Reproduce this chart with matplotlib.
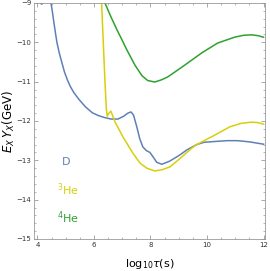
import matplotlib
matplotlib.use("Agg")
import matplotlib.pyplot as plt
from matplotlib.ticker import MultipleLocator

# D curve
d_x = [4.48, 4.53, 4.57, 4.63, 4.69, 4.77, 4.86, 4.96, 5.07, 5.17, 5.3, 5.48, 5.7,
       5.94, 6.15, 6.36, 6.6, 6.85, 7.05, 7.2, 7.31, 7.4, 7.52, 7.62, 7.73, 7.85,
       7.98, 8.1, 8.22, 8.4, 8.68, 9.0, 9.3, 9.63, 9.9, 10.3, 10.7, 11.08, 11.5, 12.0]
d_y = [-9.0, -9.22, -9.43, -9.72, -10.0, -10.26, -10.5, -10.76, -10.97, -11.13,
       -11.29, -11.46, -11.64, -11.79, -11.86, -11.91, -11.95, -11.95, -11.88, -11.8,
       -11.77, -11.85, -12.16, -12.45, -12.66, -12.75, -12.8, -12.92, -13.05, -13.1,
       -13.02, -12.88, -12.73, -12.6, -12.54, -12.52, -12.5, -12.5, -12.53, -12.59]
# tiny piece of D poking in at the top left
d2_x = [4.10, 4.15, 4.20]
d2_y = [-8.99, -9.03, -8.99]

# 3He curve
he3_x = [6.27, 6.33, 6.39, 6.44, 6.47, 6.53, 6.6, 6.67, 6.75, 7.03, 7.38, 7.63, 7.87,
         8.15, 8.4, 8.68, 9.0, 9.46, 9.63, 10.27, 10.8, 11.2, 11.57, 11.8, 12.0]
he3_y = [-9.0, -10.0, -11.0, -11.7, -11.88, -11.8, -11.75, -11.88, -12.03, -12.41,
         -12.82, -13.07, -13.2, -13.27, -13.24, -13.17, -12.98, -12.69, -12.6, -12.36,
         -12.15, -12.06, -12.03, -12.04, -12.08]

# 4He curve
he4_x = [6.39, 6.6, 6.82, 7.0, 7.17, 7.45, 7.7, 7.9, 8.15, 8.4, 8.61, 9.21, 9.81,
         10.37, 10.97, 11.3, 11.57, 11.8, 12.0]
he4_y = [-9.0, -9.35, -9.69, -9.95, -10.2, -10.58, -10.85, -10.97, -11.01, -10.95,
         -10.88, -10.58, -10.27, -10.02, -9.87, -9.82, -9.81, -9.83, -9.87]

blue = "#5E81B5"
yellow = "#D8CF0A"
green = "#2EA22E"

plt.rcParams['mathtext.fontset'] = 'dejavusans'
fig = plt.figure(figsize=(2.70, 2.71), dpi=100)
ax = fig.add_axes([34 / 270, 32 / 271, 231 / 270, 236 / 271])

ax.plot(d_x, d_y, color=blue, lw=1.1)
ax.plot(d2_x, d2_y, color=blue, lw=1.1)
ax.plot(he3_x, he3_y, color=yellow, lw=1.1)
ax.plot(he4_x, he4_y, color=green, lw=1.1)

ax.text(4.88, -13.05, "D", color=blue, fontsize=8, va="center")
ax.text(4.7, -13.75, "$^3$He", color=yellow, fontsize=8, va="center")
ax.text(4.7, -14.45, "$^4$He", color=green, fontsize=8, va="center")

ax.set_xlim(3.88, 12.05)
ax.set_ylim(-15, -9)
ax.xaxis.set_major_locator(MultipleLocator(2))
ax.xaxis.set_minor_locator(MultipleLocator(0.5))
ax.yaxis.set_major_locator(MultipleLocator(1))
ax.yaxis.set_minor_locator(MultipleLocator(0.2))
ax.tick_params(which="both", direction="in", top=True, right=True,
               color="#999999", labelsize=5, labelcolor="#333333", pad=2)
ax.tick_params(which="major", length=3, width=0.6)
ax.tick_params(which="minor", length=1.5, width=0.5)
ax.tick_params(axis="x", labeltop=False)
ax.tick_params(axis="y", labelright=False)
for s in ax.spines.values():
    s.set_color("#999999")
    s.set_linewidth(0.6)
ax.set_yticks(range(-15, -8))
ax.set_yticklabels(["\u221215", "\u221214", "\u221213", "\u221212", "\u221211",
                    "\u221210", "\u22129"])

ax.set_xlabel(r"log$_{10}\tau$(s)", fontsize=8)
ax.set_ylabel(r"$E_X\,Y_X$(GeV)", fontsize=8.5)
ax.xaxis.set_label_coords(0.5, -0.076)
ax.yaxis.set_label_coords(-0.072, 0.5)

fig.savefig("out.png", dpi=100)
